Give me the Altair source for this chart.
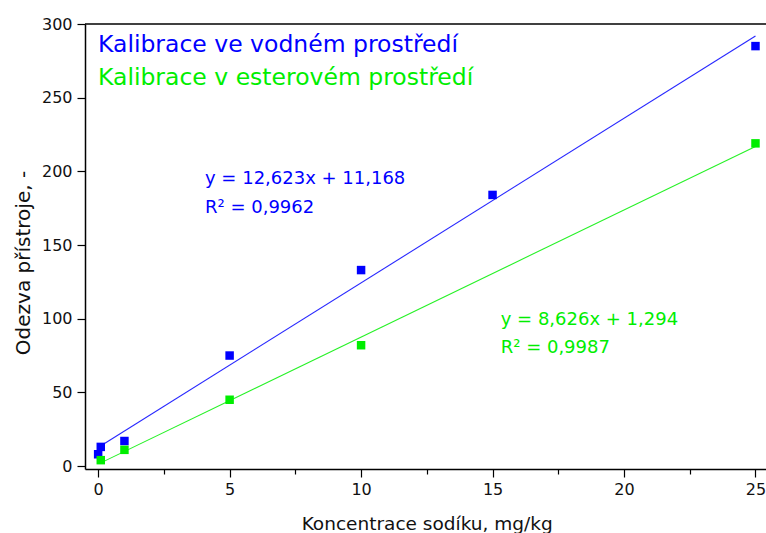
import altair as alt
import pandas as pd

# ---- data ----
x_voda = [0, 0.1, 1, 5, 10, 15, 25]
y_voda = [8, 13, 17, 75, 133, 184, 285]
x_ester = [0.1, 1, 5, 10, 25]
y_ester = [4, 11, 45, 82, 219]

series_names = ["Kalibrace ve vodném prostředí", "Kalibrace v esterovém prostředí"]
series_colors = ["#0000ff", "#00ee00"]

eq_voda = ["y = 12,623x + 11,168", "R² = 0,9962"]
eq_ester = ["y = 8,626x + 1,294", "R² = 0,9987"]

x_ticks = [0, 2.5, 5, 7.5, 10, 12.5, 15, 17.5, 20, 22.5, 25]
y_ticks = [0, 25, 50, 75, 100, 125, 150, 175, 200, 225, 250, 275, 300]

x_title = "Koncentrace sodíku, mg/kg"
y_title = "Odezva přístroje, -"

# ---- table ----
df = pd.DataFrame(
    {
        "x": x_voda + x_ester,
        "y": y_voda + y_ester,
        "serie": [series_names[0]] * len(x_voda) + [series_names[1]] * len(x_ester),
    }
)

FONT = "DejaVu Sans"
W, H = 681, 445

xscale = alt.Scale(domain=[-0.5, 25.4], nice=False, zero=False)
yscale = alt.Scale(domain=[-2, 300], nice=False, zero=False)
cscale = alt.Scale(domain=series_names, range=series_colors)

xaxis = alt.Axis(
    values=x_ticks,
    labelExpr="datum.value % 5 === 0 ? datum.label : ''",
    tickSize={"condition": {"test": "datum.value % 5 === 0", "value": 8}, "value": 5},
    labelPadding=4,
    labelFlush=False,
    labelOverlap=False,
    grid=False,
    title=x_title,
    titleX=341.7,
    titleY=60,
    titleAlign="center",
    titleBaseline="alphabetic",
    titleFontSize=18.5,
)
yaxis = alt.Axis(
    values=y_ticks,
    labelExpr="datum.value % 50 === 0 ? datum.label : ''",
    tickSize={"condition": {"test": "datum.value % 50 === 0", "value": 8}, "value": 5},
    labelPadding=5,
    labelOverlap=False,
    labelFlush=False,
    grid=False,
    title=y_title,
    titleX=-55.7,
    titleY=238.5,
    titleAlign="center",
    titleBaseline="alphabetic",
    titleFontSize=20,
)

base = alt.Chart(df)

lines = base.transform_regression("x", "y", groupby=["serie"]).mark_line(
    strokeWidth=1.1, opacity=0.85
).encode(
    x=alt.X("x:Q", scale=xscale, axis=xaxis),
    y=alt.Y("y:Q", scale=yscale, axis=yaxis),
    color=alt.Color("serie:N", scale=cscale, legend=None),
)

points = base.mark_square(size=72, opacity=1).encode(
    x=alt.X("x:Q", scale=xscale),
    y=alt.Y("y:Q", scale=yscale),
    color=alt.Color("serie:N", scale=cscale, legend=None),
)

top_rule = alt.Chart(pd.DataFrame({"y": [300]})).mark_rule(
    color="black", strokeWidth=1.5
).encode(y=alt.Y("y:Q", scale=yscale), x=alt.value(0), x2=alt.value(W))


def label(text, color, px, py, size):
    return alt.Chart(pd.DataFrame({"t": [text]})).mark_text(
        align="left", baseline="alphabetic", font=FONT, fontSize=size, color=color
    ).encode(text="t:N", x=alt.value(px), y=alt.value(py))


texts = [
    label(series_names[0], series_colors[0], 13, 27.7, 23.5),
    label(series_names[1], series_colors[1], 13, 61, 23.5),
    label(eq_voda[0], series_colors[0], 120, 160.3, 18),
    label(eq_voda[1], series_colors[0], 120, 189.3, 18),
    label(eq_ester[0], series_colors[1], 415.7, 301, 18),
    label(eq_ester[1], series_colors[1], 415.7, 329.3, 18),
]

chart = alt.layer(lines, points, top_rule, *texts).properties(
    width=W,
    height=H,
    background="white",
    autosize=alt.AutoSizeParams(type="none"),
    padding={"left": 85, "top": 24, "right": 0, "bottom": 64},
).configure_view(stroke=None).configure_axis(
    labelFont=FONT,
    titleFont=FONT,
    labelFontSize=16,
    labelColor="#111111",
    titleColor="#111111",
    titleFontWeight="normal",
    domainColor="black",
    domainWidth=1.5,
    tickColor="black",
    tickWidth=1.2,
)

chart.save("out.html", embed_options={"renderer": "svg", "actions": False})
